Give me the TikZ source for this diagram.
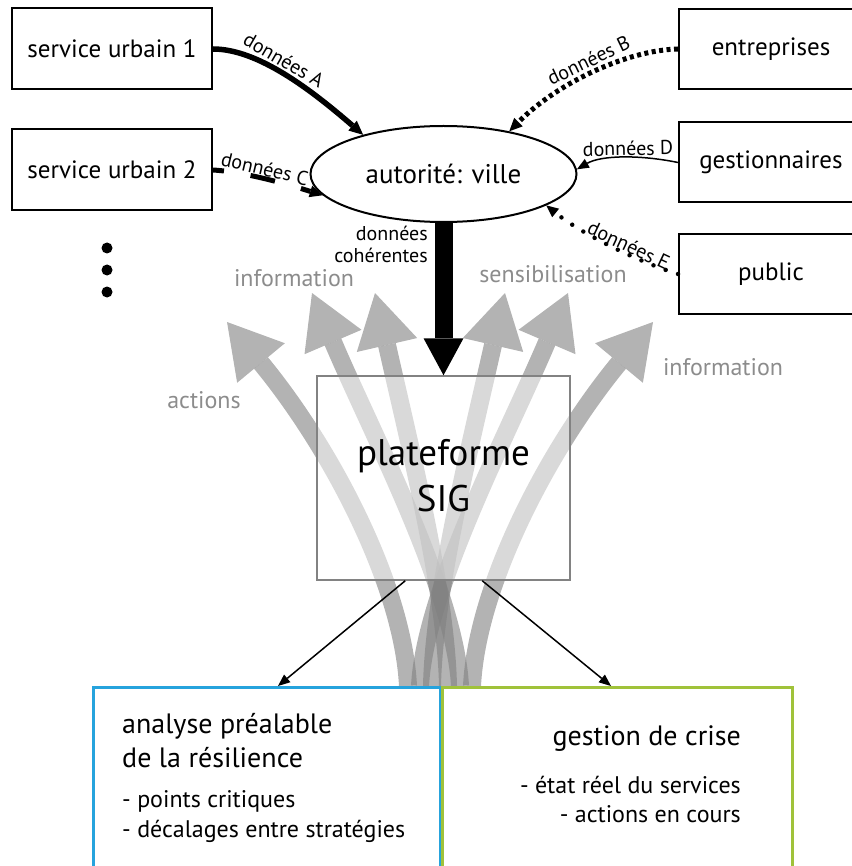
\documentclass[tikz,border=0pt]{standalone}
\usepackage{fontspec}
\setmainfont{PT Sans}
\usetikzlibrary{arrows.meta,calc,shapes.geometric}
\definecolor{bluebox}{RGB}{38,163,221}
\definecolor{greenbox}{RGB}{160,194,58}
\definecolor{labgray}{RGB}{140,140,140}
\definecolor{arrgray}{RGB}{128,128,128}
\definecolor{platgray}{RGB}{130,130,130}
\newcommand{\fs}[1]{\fontsize{#1}{#1}\selectfont}
\newcommand{\grarrow}[5]{%
  \draw[gshaft] #1 .. controls #2 and #3 .. #4;
  \fill[ghead] #5 -- ($#4!31pt!90:#5$) -- ($#4!31pt!-90:#5$) -- cycle;
}
\begin{document}
\begin{tikzpicture}[x=1pt,y=-1pt,
  srcbox/.style={draw, line width=2pt, minimum width=200pt, minimum height=81pt, inner sep=0pt, font=\fs{25}},
  actbox/.style={draw, line width=2pt, minimum width=184pt, minimum height=80pt, inner sep=0pt, font=\fs{25}},
  lab/.style={font=\fs{20}, inner sep=2pt},
  glab/.style={font=\fs{24}, text=labgray, anchor=base, inner sep=0pt},
  txt/.style={inner sep=0pt},
  gshaft/.style={draw=arrgray, line width=18pt, opacity=0.6},
  ghead/.style={fill=arrgray, opacity=0.6},
  thin/.style={line width=1.5pt, -{Triangle[length=12pt,width=10pt,line width=0pt]}},
]
\useasboundingbox (0,0) rectangle (851,866);

% gray arrows
\grarrow{(408,686)}{(403,585)}{(331,448)}{(261,363)}{(227,322)}
\grarrow{(460,686)}{(455,590)}{(372,434)}{(333,342)}{(312,293)}
\grarrow{(448,686)}{(446,590)}{(409,443)}{(387,345)}{(375,293)}
\grarrow{(432,686)}{(434,590)}{(471,443)}{(493,345)}{(505,293)}
\grarrow{(420,686)}{(425,590)}{(508,434)}{(547,342)}{(568,293)}
\grarrow{(472,686)}{(477,585)}{(549,448)}{(619,363)}{(653,322)}

% platform
\node[draw=platgray, line width=1.5pt, fill=white, fill opacity=0.5, text opacity=1,
      minimum width=253pt, minimum height=204pt, inner sep=0pt] (plat) at (443.5,478) {};
\node[txt, font=\fs{37}, anchor=base] (platA) at (443.5,465) {plateforme};
\node[txt, font=\fs{37}, anchor=base] (platB) at (443.5,511) {SIG};

% bottom boxes
\node[draw=bluebox, line width=3pt, fill=white, minimum width=347pt, minimum height=200pt,
      anchor=north west, inner sep=0pt] (ana) at (92,686) {};
\node[draw=greenbox, line width=3pt, fill=white, minimum width=350pt, minimum height=200pt,
      anchor=north west, inner sep=0pt] (gc) at (441,686) {};
\node[txt, font=\fs{28}, anchor=base west] (a1) at (122,733) {analyse préalable};
\node[txt, font=\fs{28}, anchor=base west] (a2) at (122,767) {de la résilience};
\node[txt, font=\fs{24}, anchor=base west] (a3) at (122,807) {- points critiques};
\node[txt, font=\fs{24}, anchor=base west] (a4) at (122,837) {- décalages entre stratégies};
\node[txt, font=\fs{28}, anchor=base east] (g1) at (741,745) {gestion de crise};
\node[txt, font=\fs{24}, anchor=base east] (g2) at (741,793) {- état réel du services};
\node[txt, font=\fs{24}, anchor=base east] (g3) at (741,822) {- actions en cours};

\draw[thin] ($(plat.south west)+(89,0)$) -- ($(ana.north west)+(186,0)$);
\draw[thin] ($(plat.south west)+(166,0)$) -- ($(gc.north west)+(170,0)$);

% top nodes
\node[srcbox] (su1) at (112,49) {service urbain 1};
\node[srcbox] (su2) at (112,170) {service urbain 2};
\node[actbox] (ent) at (771,49) {entreprises};
\node[actbox] (ges) at (771,162.5) {gestionnaires};
\node[actbox] (pub) at (771,274) {public};
\node[ellipse, draw, line width=2pt, minimum width=266pt, minimum height=96pt, inner sep=0pt, font=\fs{27}] (ell) at (443.5,174) {autorité: ville};

\node[circle, fill, inner sep=0pt, minimum size=11pt] (d1) at (107,248) {};
\node[circle, fill, inner sep=0pt, minimum size=11pt] (d2) at (107,270) {};
\node[circle, fill, inner sep=0pt, minimum size=11pt] (d3) at (107,292) {};

% data connectors
\draw[line width=5.5pt, -{Triangle[length=14pt,width=13pt,line width=0pt]}]
  (su1.east) .. controls +(45,0) and +(-52,-45) .. (ell.154)
  node[lab, sloped, above, pos=0.45] {données A};
\draw[line width=5pt, dash pattern=on 25pt off 27pt, dash phase=14pt, -{Triangle[length=13pt,width=12pt,line width=0pt]}]
  (su2.east) .. controls +(33,2) and +(-32,-10) .. (ell.190)
  node[lab, sloped, above, pos=0.45, inner sep=0pt] {données C};
\draw[line width=5pt, dash pattern=on 4pt off 3.5pt, -{Triangle[length=13pt,width=12pt,line width=0pt]}]
  (ent.west) .. controls +(-49,1) and +(50,-50) .. (ell.33)
  node[lab, sloped, above, pos=0.5, inner sep=3pt] {données B};
\draw[line width=1.5pt, -{Triangle[length=12pt,width=10pt,line width=0pt]}]
  (ges.west) .. controls +(-39,-8) and +(24,-14) .. (ell.2)
  node[lab, sloped, above, pos=0.44, inner sep=1pt] {données D};
\draw[line width=4.5pt, line cap=round, dash pattern=on 0pt off 13pt, -{Triangle[length=12pt,width=11pt,line width=0pt]}]
  (pub.west) .. controls +(-39,-12) and +(36,29) .. (ell.-17)
  node[lab, sloped, above=-3pt, pos=0.4] {données E};

% coherent data arrow
\draw[line width=18pt] (ell.south) -- ($(plat.north)+(0,-37)$);
\fill (plat.north) -- ($(plat.north)+(-20,-37)$) -- ($(plat.north)+(20,-37)$) -- cycle;
\node[txt, font=\fs{20}, anchor=base east] (dc1) at (428,241) {données};
\node[txt, font=\fs{20}, anchor=base east] (dc2) at (428,263) {cohérentes};

% gray labels
\node[glab] (l1) at (294,287) {information};
\node[glab] (l2) at (553,282) {sensibilisation};
\node[glab] (l3) at (204,408) {actions};
\node[glab] (l4) at (723,375) {information};
\end{tikzpicture}
\end{document}
